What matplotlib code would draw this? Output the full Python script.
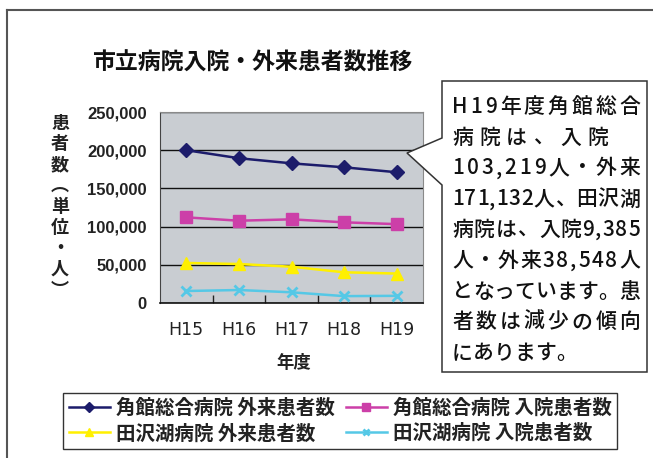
import matplotlib
matplotlib.use("Agg")
import matplotlib.pyplot as plt
from matplotlib.font_manager import FontProperties
from matplotlib.patches import Polygon
from matplotlib.lines import Line2D

# ---------------- data ----------------
years = ["H15", "H16", "H17", "H18", "H19"]
kakunodate_outpatient = [200000, 189500, 182800, 177600, 171132]
kakunodate_inpatient = [112100, 107700, 109500, 105600, 103219]
tazawako_outpatient = [52400, 51000, 47500, 40200, 38548]
tazawako_inpatient = [15700, 17000, 14000, 9000, 9385]
series_labels = ["角館総合病院 外来患者数", "角館総合病院 入院患者数",
                 "田沢湖病院 外来患者数", "田沢湖病院 入院患者数"]
y_ticks = [0, 50000, 100000, 150000, 200000, 250000]
title = "市立病院入院・外来患者数推移"
ylabel_chars = ["患", "者", "数", "︵", "単", "位", "・", "人", "︶"]
xlabel = "年度"
note_lines = ["H19年度角館総合", "病院は、入院", "103,219人・外来",
              "171,132人、田沢湖", "病院は、入院9,385", "人・外来38,548人",
              "となっています。患", "者数は減少の傾向", "にあります。"]

W, H = 653, 458
CJK = "Noto Sans CJK JP"
plt.rcParams['font.family'] = [CJK, 'DejaVu Sans']

fig = plt.figure(figsize=(W / 100, H / 100), dpi=100)
fig.patch.set_facecolor("white")


def px(x, y):
    return (x / W, 1 - y / H)


# outer frame (extends beyond right/bottom)
fig.add_artist(Line2D([7 / W, 7 / W], [0, 1 - 10 / H], transform=fig.transFigure,
                      color="#555555", lw=1.5))
fig.add_artist(Line2D([7 / W, 1], [1 - 10 / H, 1 - 10 / H], transform=fig.transFigure,
                      color="#555555", lw=1.5))

# ---------------- axes ----------------
ax_l, ax_r, ax_t, ax_b = 160, 423, 112, 303
ax = fig.add_axes([ax_l / W, 1 - ax_b / H, (ax_r - ax_l) / W, (ax_b - ax_t) / H])
ax.set_facecolor("#c9cdd2")
x = list(range(len(years)))

ax.plot(x, kakunodate_outpatient, color="#1c1c6b", lw=1.8, marker="D", ms=7,
        label=series_labels[0], zorder=5)
ax.plot(x, kakunodate_inpatient, color="#cc3fa8", lw=1.8, marker="s", ms=9,
        label=series_labels[1], zorder=5)
ax.plot(x, tazawako_outpatient, color="#fff000", lw=1.8, marker="^", ms=8,
        label=series_labels[2], zorder=5)
ax.plot(x, tazawako_inpatient, color="#55c8e6", lw=1.8, marker="x", ms=7, mew=2,
        label=series_labels[3], zorder=5)

ax.set_xlim(-0.5, len(years) - 0.5)
ax.set_ylim(0, 250000)
ax.set_yticks(y_ticks)
ax.set_yticklabels([f"{v:,}" for v in y_ticks], family="Liberation Sans",
                   fontweight="bold", fontsize=12, color="#222222")
ax.tick_params(axis="y", length=0, pad=9.5)
ax.set_xticks(x)
ax.set_xticklabels(years, family="DejaVu Sans", fontsize=12.5, color="#222222")
ax.tick_params(axis="x", which="major", length=0, pad=13)
ax.set_xticks([i + 0.5 for i in x[:-1]], minor=True)
ax.tick_params(axis="x", which="minor", direction="in", length=6, width=1, color="#222222")
ax.grid(axis="y", color="#111111", lw=1)
ax.set_axisbelow(True)
for side in ["top", "right"]:
    ax.spines[side].set_color("#8a8a8a")
ax.spines["left"].set_color("#444444")
ax.spines["bottom"].set_color("#111111")
ax.spines["bottom"].set_linewidth(1.2)

# title
fig.text(*px(252, 63), title, ha="center", va="center", fontsize=16.5,
         fontweight="bold", family=CJK, color="#111111")

# y label stacked vertically
for i, ch in enumerate(ylabel_chars):
    fig.text(*px(60, 123 + i * 20.9), ch, ha="center", va="center",
             fontsize=13, fontweight="bold", family=[CJK, "DejaVu Sans"],
             color="#222222")

# x label
fig.text(*px(294, 363), xlabel, ha="center", va="center", fontsize=12.5,
         fontweight="bold", family=CJK, color="#222222")

# ---------------- callout ----------------
bl, br, bt, bb = 442, 647, 81, 372
poly = [px(bl, bt), px(br, bt), px(br, bb), px(bl, bb), px(bl, 185),
        px(407, 153), px(bl, 138)]
fig.add_artist(Polygon(poly, closed=True, transform=fig.transFigure,
                       facecolor="white", edgecolor="#333333", lw=1.1, zorder=10))

renderer = fig.canvas.get_renderer()
fp = FontProperties(family=CJK, size=15, weight="medium")
right_edges = [640, 608, 640, 640, 640, 640, 640, 640, None]
for i, line in enumerate(note_lines):
    yc = 107 + i * 30.75
    chars = list(line)
    widths = [renderer.get_text_width_height_descent(c, fp, ismath=False)[0]
              for c in chars]
    left = 452
    if right_edges[i] is not None and len(chars) > 1:
        gap = (right_edges[i] - left - sum(widths)) / (len(chars) - 1)
    else:
        gap = 0
    cx = left
    for c, w in zip(chars, widths):
        fig.text(*px(cx, yc), c, ha="left", va="center", fontproperties=fp,
                 color="#111111", zorder=11)
        cx += w + gap

# ---------------- legend ----------------
handles, labels = ax.get_legend_handles_labels()
order = [0, 2, 1, 3]
leg = fig.legend([handles[i] for i in order], [labels[i] for i in order],
                 loc="upper left", bbox_to_anchor=px(63, 393),
                 bbox_transform=fig.transFigure, borderaxespad=0, ncol=2,
                 prop=FontProperties(family=CJK, size=14, weight="bold"),
                 handlelength=2.1, handletextpad=0.3, columnspacing=0.6,
                 labelspacing=0.3, borderpad=0.3, markerscale=0.7,
                 fancybox=False, edgecolor="#333333", framealpha=1)
leg.get_frame().set_linewidth(1.0)
for t in leg.get_texts():
    t.set_color("#222222")

fig.savefig("out.png", dpi=100)
